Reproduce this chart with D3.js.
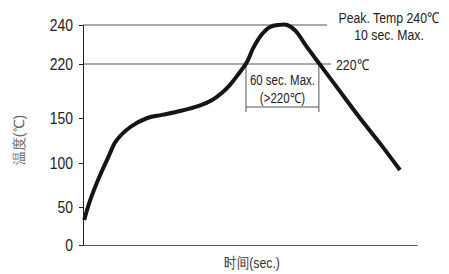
<!DOCTYPE html>
<html>
<head>
<meta charset="utf-8">
<script src="https://cdn.jsdelivr.net/npm/d3@7"></script>
<style>
  body { margin: 0; background: #fff; }
  text { font-family: "Liberation Sans", Arial, sans-serif; }
</style>
</head>
<body>
<div id="chart"></div>
<script>
// reflow profile, time in seconds vs temperature in C
const times = [1, 6, 14, 21, 27, 39, 53, 65, 80, 96, 106, 114, 121, 128, 135, 140, 147, 154, 161, 168, 175, 184, 195, 209, 228, 245, 261];
const temps = [33, 58, 86, 107, 124, 140, 150, 154, 159, 166, 173, 182, 193, 207, 221, 228, 235, 239, 240, 240, 237, 229, 219.5, 190, 150, 121, 92];

// y axis is not linear in the original, ticks placed at these values
const yTicks = [0, 50, 100, 150, 220, 240];
const yTickPx = [245, 207, 163, 118, 64, 25];

const peakTemp = 240;
const liquidTemp = 220;
const windowStart = 134.2; // sec
const windowLen = 60;

const width = 449, height = 274;
const narrow = 0.82; // squeeze text, original uses a condensed face

const svg = d3.select("#chart").append("svg")
  .attr("width", width)
  .attr("height", height);

const x = d3.scaleLinear().domain([0, 275]).range([83, 417]);
const y = d3.scaleLinear().domain(yTicks).range(yTickPx);

function label(px, py, txt, size, anchor, color) {
  return svg.append("text")
    .attr("transform", `translate(${px},${py}) scale(${narrow},1)`)
    .attr("text-anchor", anchor || "start")
    .style("font-size", size + "px")
    .attr("fill", color || "#222")
    .text(txt);
}

// reference lines at 240 and 220
svg.append("line")
  .attr("x1", x(0)).attr("x2", 327)
  .attr("y1", y(peakTemp)).attr("y2", y(peakTemp))
  .attr("stroke", "#555").attr("stroke-width", 1);
svg.append("line")
  .attr("x1", x(0)).attr("x2", 331)
  .attr("y1", y(liquidTemp)).attr("y2", y(liquidTemp))
  .attr("stroke", "#555").attr("stroke-width", 1);

// 60 sec window bracket
const wx1 = x(windowStart), wx2 = x(windowStart + windowLen);
svg.append("line").attr("x1", wx1).attr("x2", wx1)
  .attr("y1", y(liquidTemp)).attr("y2", y(liquidTemp) + 48)
  .attr("stroke", "#555");
svg.append("line").attr("x1", wx2).attr("x2", wx2)
  .attr("y1", y(liquidTemp)).attr("y2", y(liquidTemp) + 48)
  .attr("stroke", "#555");
svg.append("line").attr("x1", wx1).attr("x2", wx2)
  .attr("y1", y(liquidTemp) + 43).attr("y2", y(liquidTemp) + 43)
  .attr("stroke", "#555");

// axes
const yAxis = svg.append("g")
  .attr("transform", `translate(${x(0)},0)`)
  .call(d3.axisLeft(y).tickValues(yTicks).tickSize(4).tickPadding(5));
yAxis.select(".domain").attr("stroke", "#222");
yAxis.selectAll(".tick line").attr("stroke", "#222");
yAxis.selectAll("text")
  .attr("fill", "#222")
  .attr("x", -10 / narrow)
  .attr("transform", `scale(${narrow},1)`)
  .style("font-size", "17px");

const xAxis = svg.append("g")
  .attr("transform", `translate(0,${y(0)})`)
  .call(d3.axisBottom(x).tickValues([]).tickSizeOuter(0));
xAxis.select(".domain").attr("stroke", "#555");

// curve
const profile = times.map((t, i) => ({ t, v: temps[i] }));
svg.append("path")
  .datum(profile)
  .attr("fill", "none")
  .attr("stroke", "#1a1411")
  .attr("stroke-width", 4)
  .attr("d", d3.line()
    .x(d => x(d.t))
    .y(d => y(d.v))
    .curve(d3.curveCatmullRom.alpha(0.5)));

// annotations
label(389, y(peakTemp) - 2, "Peak. Temp 240℃", 15, "middle");
label(389, y(peakTemp) + 15, "10 sec. Max.", 15, "middle");
label(336, y(liquidTemp) + 6, "220℃", 15);
label((wx1 + wx2) / 2, y(liquidTemp) + 21, "60 sec. Max.", 14, "middle");
label((wx1 + wx2) / 2, y(liquidTemp) + 39, "(>220℃)", 14, "middle");

// axis titles
svg.append("text")
  .attr("transform", `translate(24,140) rotate(-90)`)
  .attr("text-anchor", "middle")
  .style("font-size", "14px").attr("fill", "#666")
  .text("温度(℃)");
label(252, 268, "时间(sec.)", 15, "middle", "#333");
</script>
</body>
</html>
